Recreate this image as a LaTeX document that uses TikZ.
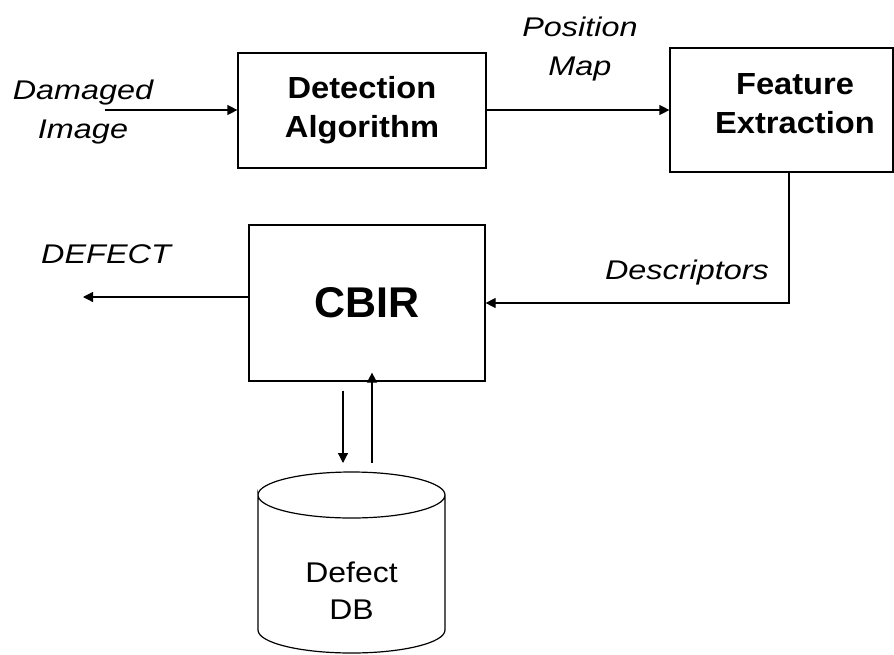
\documentclass[tikz,border=0pt]{standalone}
\usepackage{fontspec}
\setmainfont{Liberation Sans}
\newfontfamily\itwide[FakeStretch=1.2]{Liberation Sans Italic}
\newfontfamily\bfwide[FakeStretch=1.07]{Liberation Sans Bold}
\newfontfamily\rgwide[FakeStretch=1.12]{Liberation Sans}
\usetikzlibrary{arrows.meta}
\begin{document}
\begin{tikzpicture}[x=1pt,y=-1pt,
  line width=1.2pt,
  box/.style={draw, rectangle, inner sep=0pt},
  boldlbl/.style={font=\bfwide\fontsize{30.5}{39}\selectfont, align=center, inner sep=0pt},
  itlbl/.style={font=\itwide\fontsize{27}{39}\selectfont, align=center, inner sep=0pt},
  reglbl/.style={font=\rgwide\fontsize{28.5}{37}\selectfont, align=center, inner sep=0pt},
  arr/.style={-{Triangle[length=10pt,width=10pt]}}]
\useasboundingbox (0,0) rectangle (894,654);
% boxes
\node[box, minimum width=248pt, minimum height=115pt, boldlbl] (det) at (362,110.5) {Detection\\Algorithm};
\node[box, minimum width=223pt, minimum height=124pt] (feat) at (781.5,110) {};
\node[boldlbl] (feattext) at (795,104) {Feature\\Extraction};
\node[box, minimum width=236pt, minimum height=156pt, font=\bfseries\fontsize{43}{50}\selectfont] (cbir) at (367,303) {CBIR};
% cylinder
\draw (258,495) arc[start angle=180, end angle=360, x radius=93.5, y radius=23]
      arc[start angle=0, end angle=180, x radius=93.5, y radius=23]
      -- (258,630) arc[start angle=180, end angle=0, x radius=93.5, y radius=23]
      -- (445,495);
\node[reglbl, minimum width=187pt, minimum height=120pt] (db) at (351.5,591) {Defect\\DB};
% labels
\node[itlbl] (dmg) at (83,112) {Damaged\\Image};
\node[itlbl] (pos) at (580,49) {Position\\Map};
\node[itlbl] (desc) at (687,273) {Descriptors};
\node[itlbl] (defect) at (106,254) {DEFECT};
% coordinates
\coordinate (inA) at (105,110);
\coordinate (outD) at (83,297);
\coordinate (corner) at (789,303);
% connectors
\draw[arr] (inA) -- (det.west |- inA);
\draw[arr] (det.east |- inA) -- (feat.west |- inA);
\draw[arr] (feat.south -| corner) -- (corner) -- (cbir.east |- corner);
\draw[arr] (cbir.west |- outD) -- (outD);
\draw[arr] (cbir.south -| 343,0) ++(0,9) -- (343,463);
\draw[arr] (372,463) -- ([yshift=9pt]cbir.south -| 372,0);
\end{tikzpicture}
\end{document}
